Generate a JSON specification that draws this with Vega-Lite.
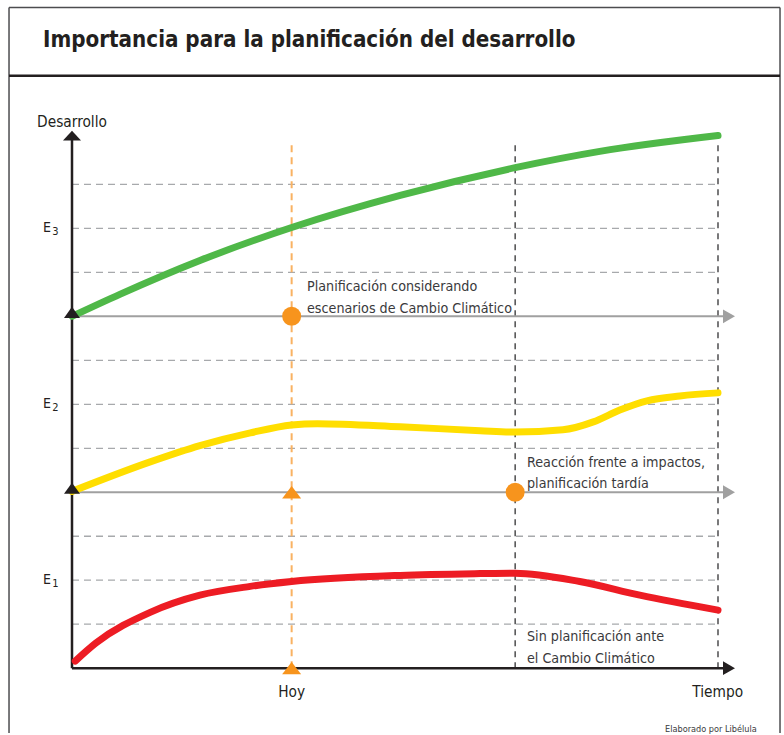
{
  "$schema": "https://vega.github.io/schema/vega-lite/v6.json",
  "width": 784,
  "height": 735,
  "padding": 0,
  "autosize": {"type": "fit", "contains": "padding"},
  "background": "white",
  "config": {"view": {"stroke": null}},
  "encoding": {
    "x": {"field": "t", "type": "quantitative", "scale": {"domain": [-11.146, 110.217], "nice": false, "zero": false}, "axis": null},
    "y": {"field": "v", "type": "quantitative", "scale": {"domain": [-1.474, 15.193], "nice": false, "zero": false}, "axis": null}
  },
  "layer": [
    {
      "data": {"values": [
        {"t": -9.75, "t2": 109.6, "v": 15.02, "v2": 15.02},
        {"t": -9.75, "t2": -9.75, "v": 15.02, "v2": -1.474},
        {"t": 109.6, "t2": 109.6, "v": 15.02, "v2": -1.474}
      ]},
      "mark": {"type": "rule", "color": "#4d4d4f", "strokeWidth": 1.5},
      "encoding": {"x2": {"field": "t2"}, "y2": {"field": "v2"}}
    },
    {
      "data": {"values": [{"t": -9.75, "t2": 109.6, "v": 13.47}]},
      "mark": {"type": "rule", "color": "#231f20", "strokeWidth": 2.5},
      "encoding": {"x2": {"field": "t2"}}
    },
    {
      "data": {"values": [
        {"t": 0, "t2": 100, "v": 1}, {"t": 0, "t2": 100, "v": 2}, {"t": 0, "t2": 100, "v": 3},
        {"t": 0, "t2": 100, "v": 5}, {"t": 0, "t2": 100, "v": 6}, {"t": 0, "t2": 100, "v": 7},
        {"t": 0, "t2": 100, "v": 9}, {"t": 0, "t2": 100, "v": 10}, {"t": 0, "t2": 100, "v": 11}
      ]},
      "mark": {"type": "rule", "color": "#a7a9ac", "strokeWidth": 1.3, "strokeDash": [7, 5]},
      "encoding": {"x2": {"field": "t2"}}
    },
    {
      "data": {"values": [{"t": 68.6, "v": 0, "v2": 11.97}, {"t": 100, "v": 0, "v2": 11.97}]},
      "mark": {"type": "rule", "color": "#414042", "strokeWidth": 1.4, "strokeDash": [6, 5]},
      "encoding": {"y2": {"field": "v2"}}
    },
    {
      "data": {"values": [{"t": 34, "v": 0, "v2": 11.97}]},
      "mark": {"type": "rule", "color": "#f9b262", "strokeWidth": 2, "strokeDash": [7, 5]},
      "encoding": {"y2": {"field": "v2"}}
    },
    {
      "data": {"values": [{"t": 0, "t2": 101.5, "v": 4}, {"t": 0, "t2": 101.5, "v": 8}]},
      "mark": {"type": "rule", "color": "#a0a0a0", "strokeWidth": 2},
      "encoding": {"x2": {"field": "t2"}}
    },
    {
      "data": {"values": [
        {"t": 0, "t2": 101.5, "v": 0, "v2": 0},
        {"t": 0, "t2": 0, "v": 0, "v2": 12.1}
      ]},
      "mark": {"type": "rule", "color": "#231f20", "strokeWidth": 2.5},
      "encoding": {"x2": {"field": "t2"}, "y2": {"field": "v2"}}
    },
    {
      "data": {"values": [
        {"serie": "verde", "t": 0, "v": 8.0}, {"serie": "verde", "t": 7.4, "v": 8.5}, {"serie": "verde", "t": 19.8, "v": 9.27},
        {"serie": "verde", "t": 34, "v": 10.02}, {"serie": "verde", "t": 50.8, "v": 10.75}, {"serie": "verde", "t": 68.6, "v": 11.38},
        {"serie": "verde", "t": 81.7, "v": 11.75}, {"serie": "verde", "t": 100, "v": 12.11},
        {"serie": "amarillo", "t": 0, "v": 4.02}, {"serie": "amarillo", "t": 12.1, "v": 4.69}, {"serie": "amarillo", "t": 19.8, "v": 5.06},
        {"serie": "amarillo", "t": 27.6, "v": 5.35}, {"serie": "amarillo", "t": 34, "v": 5.53}, {"serie": "amarillo", "t": 38, "v": 5.56},
        {"serie": "amarillo", "t": 50.8, "v": 5.49}, {"serie": "amarillo", "t": 63.2, "v": 5.4}, {"serie": "amarillo", "t": 68.6, "v": 5.37},
        {"serie": "amarillo", "t": 76, "v": 5.42}, {"serie": "amarillo", "t": 80.7, "v": 5.6}, {"serie": "amarillo", "t": 84.8, "v": 5.87},
        {"serie": "amarillo", "t": 89, "v": 6.08}, {"serie": "amarillo", "t": 94.1, "v": 6.19}, {"serie": "amarillo", "t": 100, "v": 6.26},
        {"serie": "rojo", "t": 0.5, "v": 0.16}, {"serie": "rojo", "t": 3.7, "v": 0.57}, {"serie": "rojo", "t": 12.1, "v": 1.27},
        {"serie": "rojo", "t": 19.8, "v": 1.66}, {"serie": "rojo", "t": 27.6, "v": 1.86}, {"serie": "rojo", "t": 34, "v": 1.97},
        {"serie": "rojo", "t": 50.8, "v": 2.11}, {"serie": "rojo", "t": 63.2, "v": 2.15}, {"serie": "rojo", "t": 68.6, "v": 2.16},
        {"serie": "rojo", "t": 78.6, "v": 1.97}, {"serie": "rojo", "t": 87.9, "v": 1.66}, {"serie": "rojo", "t": 100, "v": 1.32}
      ]},
      "mark": {"type": "line", "strokeWidth": 7, "strokeCap": "round", "interpolate": "monotone"},
      "encoding": {
        "color": {"field": "serie", "type": "nominal", "scale": {"domain": ["verde", "amarillo", "rojo"], "range": ["#4fb848", "#ffde00", "#ed1c24"]}, "legend": null},
        "order": {"field": "t", "type": "quantitative"}
      }
    },
    {
      "data": {"values": [{"t": 101.7, "v": 4}, {"t": 101.7, "v": 8}]},
      "mark": {"type": "point", "shape": "M-1,-1.15L1,0L-1,1.15Z", "size": 144, "filled": true, "color": "#a0a0a0", "opacity": 1}
    },
    {
      "data": {"values": [{"t": 101.7, "v": 0}]},
      "mark": {"type": "point", "shape": "M-1,-1.15L1,0L-1,1.15Z", "size": 144, "filled": true, "color": "#231f20", "opacity": 1}
    },
    {
      "data": {"values": [{"t": 0, "v": 12.11}]},
      "mark": {"type": "point", "shape": "M-1,0.55L0,-0.55L1,0.55Z", "size": 324, "filled": true, "color": "#231f20", "opacity": 1}
    },
    {
      "data": {"values": [{"t": 0, "v": 4}, {"t": 0, "v": 8}]},
      "mark": {"type": "point", "shape": "M-1,0.2L0,-1.2L1,0.2Z", "size": 256, "filled": true, "color": "#231f20", "opacity": 1}
    },
    {
      "data": {"values": [{"t": 34, "v": 4}, {"t": 34, "v": 0}]},
      "mark": {"type": "point", "shape": "M-1,0.65L0,-0.65L1,0.65Z", "size": 361, "filled": true, "color": "#f7941d", "opacity": 1}
    },
    {
      "data": {"values": [{"t": 34, "v": 8}, {"t": 68.6, "v": 4}]},
      "mark": {"type": "point", "shape": "circle", "size": 361, "filled": true, "color": "#f7941d", "opacity": 1}
    },
    {
      "data": {"values": [{"t": -4.49, "v": 14.13, "txt": "Importancia para la planificación del desarrollo"}]},
      "mark": {"type": "text", "align": "left", "baseline": "alphabetic", "font": "DejaVu Sans Condensed, Liberation Sans Narrow, sans-serif", "fontWeight": "bold", "fontSize": 22.2, "color": "#231f20"},
      "encoding": {"text": {"field": "txt"}}
    },
    {
      "data": {"values": [{"t": 0, "v": 12.31, "txt": "Desarrollo"}, {"t": 34, "v": -0.658, "txt": "Hoy"}, {"t": 99.95, "v": -0.658, "txt": "Tiempo"}]},
      "mark": {"type": "text", "align": "center", "baseline": "alphabetic", "font": "DejaVu Sans Condensed, Liberation Sans Narrow, sans-serif", "fontSize": 15.3, "color": "#231f20"},
      "encoding": {"text": {"field": "txt"}}
    },
    {
      "data": {"values": [{"t": -4.49, "v": 10, "txt": "E"}, {"t": -4.49, "v": 6, "txt": "E"}, {"t": -4.49, "v": 2, "txt": "E"}]},
      "mark": {"type": "text", "align": "left", "baseline": "alphabetic", "dy": 4, "font": "DejaVu Sans Condensed, Liberation Sans Narrow, sans-serif", "fontSize": 14, "color": "#231f20"},
      "encoding": {"text": {"field": "txt"}}
    },
    {
      "data": {"values": [{"t": -3.05, "v": 10, "txt": "3"}, {"t": -3.05, "v": 6, "txt": "2"}, {"t": -3.05, "v": 2, "txt": "1"}]},
      "mark": {"type": "text", "align": "left", "baseline": "alphabetic", "dy": 7, "font": "DejaVu Sans Condensed, Liberation Sans Narrow, sans-serif", "fontSize": 11, "color": "#231f20"},
      "encoding": {"text": {"field": "txt"}}
    },
    {
      "data": {"values": [
        {"t": 36.38, "v": 8.57, "txt": "Planificación considerando\nescenarios de Cambio Climático"},
        {"t": 70.43, "v": 4.58, "txt": "Reacción frente a impactos,\nplanificación tardía"},
        {"t": 70.43, "v": 0.612, "txt": "Sin planificación ante\nel Cambio Climático"}
      ]},
      "mark": {"type": "text", "align": "left", "baseline": "alphabetic", "lineBreak": "\n", "lineHeight": 21.5, "font": "DejaVu Sans Condensed, Liberation Sans Narrow, sans-serif", "fontSize": 14.2, "color": "#3a3a3c"},
      "encoding": {"text": {"field": "txt"}}
    },
    {
      "data": {"values": [{"t": 91.8, "v": -1.451, "txt": "Elaborado por Libélula"}]},
      "mark": {"type": "text", "align": "left", "baseline": "alphabetic", "font": "DejaVu Sans Condensed, Liberation Sans Narrow, sans-serif", "fontSize": 9.1, "color": "#3a3a3c"},
      "encoding": {"text": {"field": "txt"}}
    }
  ]
}
